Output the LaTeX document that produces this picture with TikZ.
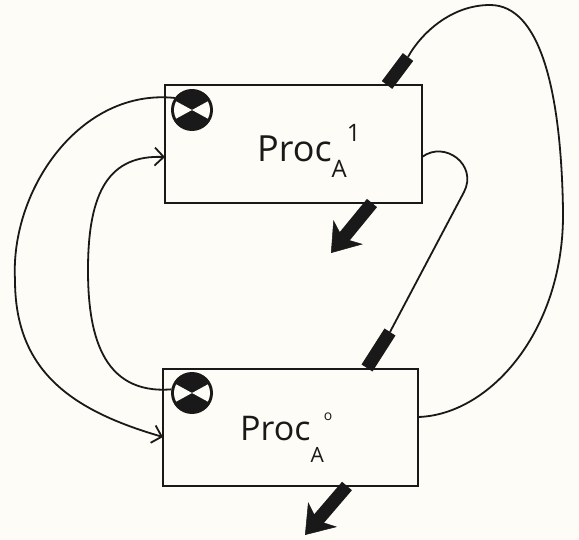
\documentclass[tikz,border=0pt]{standalone}
\usepackage{fontspec}
\setmainfont{Open Sans}
\usetikzlibrary{arrows.meta}
\definecolor{paper}{RGB}{253,252,246}
\definecolor{ink}{RGB}{25,25,25}
\begin{document}
\begin{tikzpicture}[x=1pt,y=-1pt,
  procbox/.style={draw=ink,line width=2pt,inner sep=0pt,outer sep=0pt,rectangle},
  valve/.style={circle,fill=ink,inner sep=0pt,outer sep=0pt,minimum size=42pt,
    path picture={
      \begin{scope}
        \clip (path picture bounding box.center) circle (18pt);
        \fill[paper] (path picture bounding box.center) -- ++(-22pt,12pt) -- ++(0pt,-24pt) -- cycle;
        \fill[paper] (path picture bounding box.center) -- ++(22pt,12pt) -- ++(0pt,-24pt) -- cycle;
      \end{scope}}},
  wire/.style={draw=ink,line width=1.8pt},
  feed/.style={wire,-{Straight Barb[length=9pt,width=18pt,line width=1.8pt]}},
  heavy/.style={draw=ink,line width=13pt},
  outflow/.style={heavy,-{Stealth[length=27pt,width=38pt,inset=8pt,line width=0.5pt]}},
  label/.style={anchor=base west,inner sep=0pt,text=ink}
]
% paper
\fill[paper] (0,0) rectangle (579,540);
\useasboundingbox (0,0) rectangle (579,540);

% the two process blocks
\node[procbox,minimum width=257pt,minimum height=118pt] (p1) at (293.5,144) {};
\node[procbox,minimum width=255pt,minimum height=117pt] (p0) at (290.5,427.5) {};

% labels
\node[label] (t1) at (257,162) {\fontsize{36}{40}\selectfont Proc\raisebox{-16pt}{\fontsize{24}{24}\selectfont A}\raisebox{20pt}{\fontsize{24}{24}\selectfont 1}};
\node[label] (t0) at (240,440) {\fontsize{34}{38}\selectfont Proc\raisebox{-22pt}{\fontsize{21}{21}\selectfont A}\raisebox{20pt}{\fontsize{14}{14}\selectfont o}};

% ports on the block borders
\coordinate (in1) at (165,157);
\coordinate (in0) at (163,437);
\coordinate (r1) at (422,157);
\coordinate (r0) at (418,417);
% heavy flow through the blocks
\coordinate (f1) at (408,57);
\coordinate (e1) at (387,85);
\coordinate (x1) at (372,203);
\coordinate (o1) at (331,253);
\coordinate (f0) at (390,332);
\coordinate (e0) at (367,368);
\coordinate (x0) at (347,486);
\coordinate (o0) at (305,535);

% big loop from the lower block back to the top of the upper block
\draw[wire] (r0) .. controls (490,415) and (565,330) .. (563,210)
  .. controls (561,90) and (540,5) .. (490,5)
  .. controls (450,5) and (420,35) .. (f1);
\draw[heavy] (f1) -- (e1);
\draw[outflow] (x1) -- (o1);

% small loop from the upper block down to the lower block
\draw[wire] (r1) .. controls (445,140) and (478,165) .. (464,192) -- (f0);
\draw[heavy] (f0) -- (e0);
\draw[outflow] (x0) -- (o0);

% valves
\node[valve] (v1) at (192,110) {};
\node[valve] (v0) at (192,393) {};

% cross feedback on the left
\draw[feed] (v1.145) .. controls (80,88) and (10,190) .. (15,280)
  .. controls (15,370) and (70,410) .. (in0);
\draw[feed] (v0.170) .. controls (100,395) and (88,330) .. (88,270)
  .. controls (88,190) and (110,155) .. (in1);
\end{tikzpicture}
\end{document}
